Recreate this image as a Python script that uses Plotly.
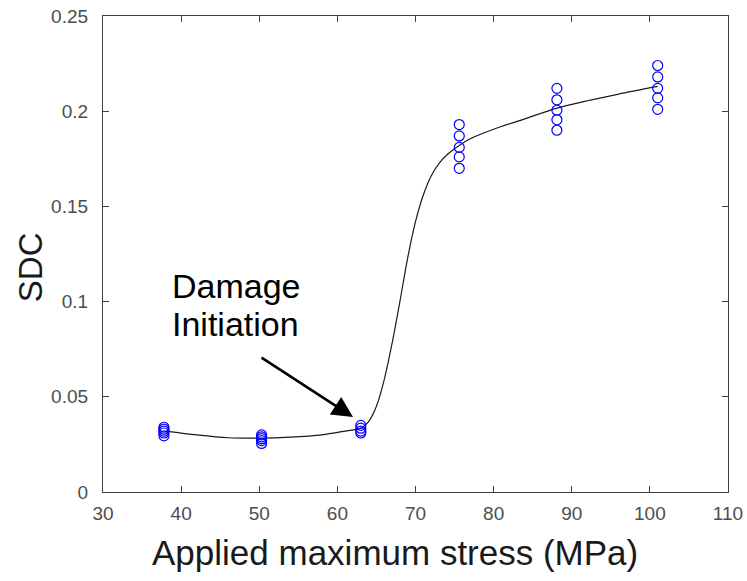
import plotly.graph_objects as go

# Measured data (open circles)
stress_groups = [37.8, 50.3, 63.0, 75.6, 88.1, 101.0]
sdc_groups = [
    [0.0295, 0.031, 0.032, 0.033, 0.034],
    [0.0255, 0.027, 0.028, 0.029, 0.030],
    [0.031, 0.032, 0.0335, 0.035],
    [0.170, 0.176, 0.181, 0.187, 0.193],
    [0.190, 0.1955, 0.2005, 0.206, 0.212],
    [0.201, 0.207, 0.212, 0.218, 0.224],
]

# Fitted trend curve
fit_x = [38, 42, 46, 50, 54, 58, 61, 63, 64, 65, 66, 67, 68, 69, 70, 71,
         72, 73, 74, 75.6, 77, 80, 84, 88, 92, 96, 101]
fit_y = [0.032, 0.030, 0.0285, 0.0283, 0.0288, 0.030, 0.032, 0.0335, 0.037,
         0.045, 0.059, 0.078, 0.100, 0.123, 0.142, 0.156, 0.166, 0.1725, 0.1770,
         0.1820, 0.1855, 0.1905, 0.1960, 0.2015, 0.2055, 0.2090, 0.2130]

x_ticks = [30, 40, 50, 60, 70, 80, 90, 100, 110]
y_ticks = [0, 0.05, 0.1, 0.15, 0.2, 0.25]
y_tick_text = ["0", "0.05", "0.1", "0.15", "0.2", "0.25"]

pts_x, pts_y = [], []
for xv, ys in zip(stress_groups, sdc_groups):
    for yv in ys:
        pts_x.append(xv)
        pts_y.append(yv)

FONT = "Arial, Liberation Sans, sans-serif"

fig = go.Figure()
fig.add_trace(go.Scatter(
    x=fit_x, y=fit_y, mode="lines",
    line=dict(color="#1a1a1a", width=1.2, shape="spline", smoothing=0.8),
    showlegend=False, hoverinfo="skip"))
fig.add_trace(go.Scatter(
    x=pts_x, y=pts_y, mode="markers",
    marker=dict(symbol="circle-open", size=10, color="#0000ff", line=dict(width=1.2, color="#0000ff")),
    showlegend=False))

fig.add_annotation(
    x=62.0, y=0.0394, ax=50.1, ay=0.0711, xref="x", yref="y", axref="x", ayref="y",
    text="", showarrow=True, arrowhead=2, arrowsize=1.6, arrowwidth=2.6, arrowcolor="black")
fig.add_annotation(
    x=38.6, y=0.108, xref="x", yref="y", xanchor="left", yanchor="middle", align="left",
    text="Damage", showarrow=False,
    font=dict(family=FONT, size=34, color="black"))
fig.add_annotation(
    x=38.6, y=0.0885, xref="x", yref="y", xanchor="left", yanchor="middle", align="left",
    text="Initiation", showarrow=False,
    font=dict(family=FONT, size=34, color="black"))

# Axis titles
fig.add_annotation(
    x=-0.117, y=0.472, xref="paper", yref="paper", xanchor="center", yanchor="middle",
    text="SDC", textangle=-90, showarrow=False,
    font=dict(family=FONT, size=33, color="#1a1a1a"))
fig.add_annotation(
    x=0.467, y=-0.128, xref="paper", yref="paper", xanchor="center", yanchor="middle",
    text="Applied maximum stress (MPa)", showarrow=False,
    font=dict(family=FONT, size=35, color="#1a1a1a"))

axis_common = dict(
    showgrid=False, zeroline=False, showline=True, linecolor="#404040", linewidth=1.2,
    mirror="ticks", ticks="inside", ticklen=6, tickcolor="#404040", tickwidth=1,
    tickfont=dict(family=FONT, size=19, color="#4d4d4d"), automargin=False,
)

fig.update_layout(
    width=747, height=581,
    margin=dict(l=103, r=19, t=16, b=89),
    paper_bgcolor="white", plot_bgcolor="white",
    xaxis=dict(range=[30, 110], tickvals=x_ticks, ticklabelstandoff=4, **axis_common),
    yaxis=dict(range=[0, 0.25], tickvals=y_ticks, ticktext=y_tick_text, ticklabelstandoff=10, **axis_common),
)

fig.write_html("out.html")
